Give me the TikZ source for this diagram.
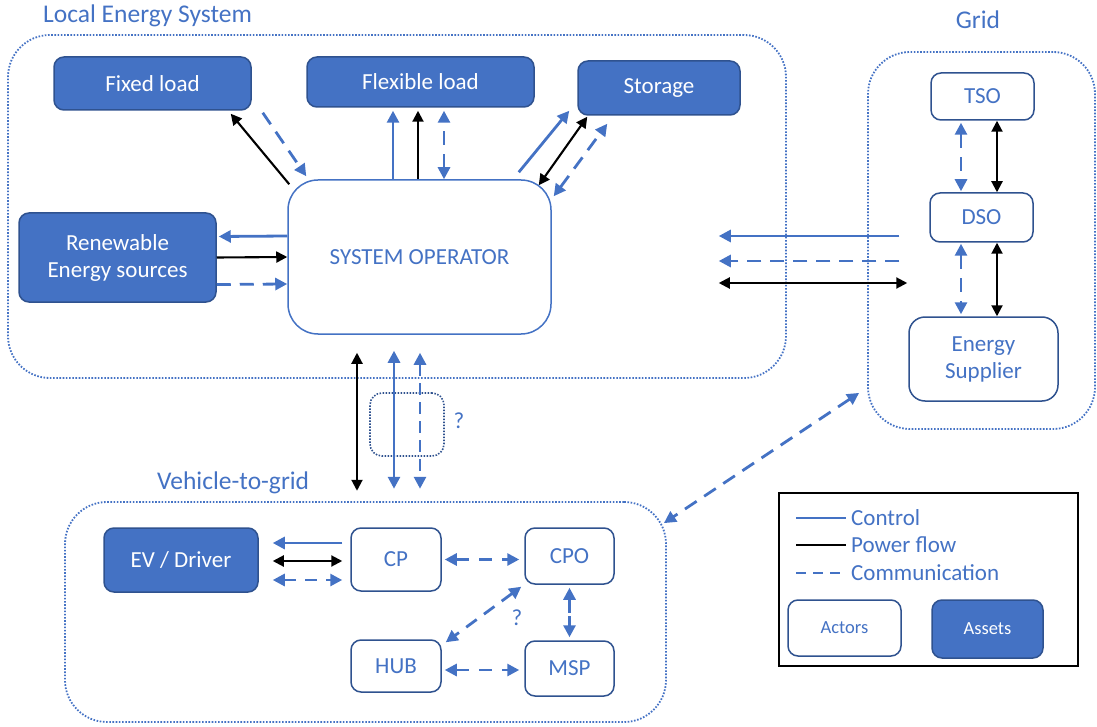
\documentclass[tikz,border=0pt]{standalone}
\usepackage{fontspec}
\setmainfont{Carlito}
\usetikzlibrary{arrows.meta}
\definecolor{mblue}{HTML}{4472C4}
\definecolor{dblue}{HTML}{2F528F}
\begin{document}
\begin{tikzpicture}[x=1pt,y=-1pt,
  txt/.style={font=\fontsize{23}{27}\selectfont},
  asset/.style={txt,draw=dblue,fill=mblue,line width=1.5pt,rounded corners=10pt,text=white,align=center},
  actor/.style={txt,draw=dblue,fill=white,line width=1.5pt,rounded corners=10pt,text=mblue,align=center},
  container/.style={draw=mblue,line width=1.8pt,dash pattern=on 1.6pt off 1.6pt,rounded corners=42pt},
  lbl/.style={text=mblue,font=\fontsize{25.5}{29}\selectfont},
  leg/.style={text=mblue,font=\fontsize{23}{27}\selectfont},
  ctrl/.style={draw=mblue,line width=2.8pt},
  pwr/.style={draw=black,line width=2.1pt},
  comm/.style={draw=mblue,line width=2.8pt,dash pattern=on 14pt off 9pt},
  bt/.style={-{Triangle[length=12pt,width=12pt]}},
  bb/.style={{Triangle[length=12pt,width=12pt]}-{Triangle[length=12pt,width=12pt]}},
  kt/.style={-{Triangle[length=11pt,width=11pt]}},
  kb/.style={{Triangle[length=11pt,width=11pt]}-{Triangle[length=11pt,width=11pt]}},
]
\useasboundingbox (0,0) rectangle (1097,727);

% containers
\node[container,minimum width=778pt,minimum height=343pt] (les) at (397,206.5) {};
\node[container,minimum width=227pt,minimum height=377pt] (grid) at (981.5,240.5) {};
\node[container,minimum width=601pt,minimum height=220pt] (v2g) at (365.5,612) {};
\node[lbl,anchor=west,inner sep=0pt] (lesl) at (43,16) {Local Energy System};
\node[lbl,inner sep=0pt] (gridl) at (978,20) {Grid};
\node[lbl,anchor=west,inner sep=0pt] (v2gl) at (157,483) {Vehicle-to-grid};

% LES nodes
\node[asset,minimum width=197pt,minimum height=53pt] (fixed) at (152.5,83.5) {Fixed load};
\node[asset,minimum width=227pt,minimum height=50pt] (flex) at (420.5,82) {Flexible load};
\node[asset,minimum width=162pt,minimum height=54pt] (stor) at (659,88) {Storage};
\node[asset,minimum width=197pt,minimum height=89pt] (res) at (117.5,257.5) {Renewable\\Energy sources};
\node[actor,draw=mblue,rounded corners=30pt,minimum width=263pt,minimum height=154pt] (so) at (419.5,257) {SYSTEM OPERATOR};

% Grid nodes
\node[actor,minimum width=103pt,minimum height=47pt] (tso) at (982.5,96.5) {TSO};
\node[actor,minimum width=103pt,minimum height=49pt] (dso) at (981.5,217.5) {DSO};
\node[actor,rounded corners=16pt,minimum width=149pt,minimum height=84pt] (es) at (983.5,359) {Energy\\Supplier};

% V2G nodes
\node[asset,minimum width=154pt,minimum height=64pt] (ev) at (181,560) {EV / Driver};
\node[actor,minimum width=90pt,minimum height=63pt] (cp) at (396,559.5) {CP};
\node[actor,minimum width=89pt,minimum height=56pt] (cpo) at (569.5,556) {CPO};
\node[actor,minimum width=90pt,minimum height=52pt] (hub) at (396,666) {HUB};
\node[actor,minimum width=89pt,minimum height=55pt] (msp) at (569.5,668.5) {MSP};

% question box
\node[draw=dblue,line width=1.6pt,dash pattern=on 1.5pt off 1.5pt,rounded corners=12pt,minimum width=74pt,minimum height=63pt] (qbox) at (407,424.5) {};
\node[leg,inner sep=0pt] (q1) at (459,421) {?};
\node[leg,inner sep=0pt] (q2) at (517,618) {?};

% Fixed load
\draw[pwr,kt] ([xshift=2pt,yshift=-5pt]so.north west) -- ([xshift=-21pt,yshift=-3pt]fixed.south east);
\draw[comm,bt] ([xshift=11pt,yshift=-2pt]fixed.south east) -- ([xshift=19pt,yshift=3pt]so.north west);
% Flexible load
\draw[ctrl,bt] ([xshift=-26.5pt]so.north) -- ([xshift=-27.5pt,yshift=-3pt]flex.south);
\draw[pwr,kt] ([xshift=-1.5pt]so.north) -- ([xshift=-2.5pt,yshift=-3pt]flex.south);
\draw[comm,bb] ([xshift=24.5pt]so.north) -- ([xshift=23.5pt,yshift=-3pt]flex.south);
% Storage
\draw[ctrl,bt] ([xshift=-33pt,yshift=7pt]so.north east) -- ([xshift=-8pt,yshift=5pt]stor.south west);
\draw[pwr,kb] ([xshift=-13pt,yshift=-6pt]so.north east) -- ([xshift=10pt,yshift=-1pt]stor.south west);
\draw[comm,bb] ([xshift=2pt,yshift=-17pt]so.north east) -- ([xshift=30pt,yshift=-8pt]stor.south west);
% Renewable
\draw[ctrl,bt] ([yshift=21pt]so.west) -- ([xshift=2pt,yshift=21pt]res.east);
\draw[pwr,kt] (res.east) -- (so.west);
\draw[comm,bt] ([yshift=-27pt]res.east) -- ([yshift=-27pt]so.west);
% Grid to LES
\draw[ctrl,bt] ([xshift=-30pt,yshift=-18.5pt]dso.west) -- ([xshift=167pt,yshift=21pt]so.east);
\draw[comm,bt] ([xshift=-30pt,yshift=-43.5pt]dso.west) -- ([xshift=167pt,yshift=-4pt]so.east);
\draw[pwr,kb] ([xshift=167pt,yshift=-26pt]so.east) -- ([xshift=-22pt,yshift=-65.5pt]dso.west);
% Grid internal
\draw[comm,bb] ([xshift=-21.5pt,yshift=-2pt]tso.south) -- ([xshift=-20.5pt,yshift=1pt]dso.north);
\draw[pwr,kb] ([xshift=14.5pt]tso.south) -- ([xshift=15.5pt]dso.north);
\draw[comm,bb] ([xshift=-20.5pt,yshift=-1pt]dso.south) -- ([xshift=-22.5pt,yshift=2pt]es.north);
\draw[pwr,kb] ([xshift=15.5pt]dso.south) -- ([xshift=13.5pt]es.north);
% SO to V2G
\draw[pwr,kb] ([xshift=-62.5pt,yshift=-18pt]so.south) -- ([xshift=-62.5pt,yshift=-156pt]so.south);
\draw[ctrl,bb] ([xshift=-25.5pt,yshift=-16pt]so.south) -- ([xshift=-25.5pt,yshift=-154pt]so.south);
\draw[comm,bb,dash pattern=on 12pt off 7pt] ([xshift=0.5pt,yshift=-18pt]so.south) -- ([xshift=0.5pt,yshift=-154pt]so.south);
% Grid to V2G
\draw[comm,bb] ([xshift=-8pt,yshift=37pt]grid.south west) -- ([xshift=-3pt,yshift=-22pt]v2g.north east);
% EV - CP
\draw[ctrl,bt] ([xshift=-8pt,yshift=16.5pt]cp.west) -- ([xshift=14pt,yshift=17pt]ev.east);
\draw[pwr,kb] ([xshift=14pt,yshift=-1pt]ev.east) -- ([xshift=-8pt,yshift=-1.5pt]cp.west);
\draw[comm,bb,dash pattern=on 12pt off 9pt] ([xshift=14pt,yshift=-20pt]ev.east) -- ([xshift=-8pt,yshift=-20.5pt]cp.west);
% V2G internal
\draw[comm,bb,dash pattern=on 13pt off 10pt] ([xshift=3pt]cp.east) -- ([xshift=-5pt,yshift=-3.5pt]cpo.west);
\draw[comm,bb,dash pattern=on 13pt off 9pt] ([xshift=-3pt,yshift=-2pt]cpo.south west) -- ([xshift=4pt,yshift=-3pt]hub.north east);
\draw[comm,bb,dash pattern=on 14pt off 3pt] ([yshift=-3pt]cpo.south) -- ([yshift=3pt]msp.north);
\draw[comm,bb,dash pattern=on 13pt off 10pt] ([xshift=3pt,yshift=-4pt]hub.east) -- ([xshift=-5pt,yshift=-1.5pt]msp.west);

% Legend
\node[draw=black,line width=2pt,minimum width=299pt,minimum height=173pt] (legend) at (928.5,579.5) {};
\node[leg,anchor=west,inner sep=0pt] (lc) at (851,518) {Control};
\node[leg,anchor=west,inner sep=0pt] (lp) at (851,545) {Power flow};
\node[leg,anchor=west,inner sep=0pt] (lm) at (851,573) {Communication};
\draw[draw=mblue,line width=2.4pt] ([xshift=-55pt]lc.west) -- ([xshift=-5pt]lc.west);
\draw[draw=black,line width=2.1pt] ([xshift=-55pt]lp.west) -- ([xshift=-5pt]lp.west);
\draw[draw=mblue,line width=2.4pt,dash pattern=on 10pt off 7pt] ([xshift=-55pt]lm.west) -- ([xshift=-5pt]lm.west);
\node[actor,font=\fontsize{18.5}{22}\selectfont,minimum width=113pt,minimum height=56pt] (actors) at (844.5,628) {Actors};
\node[asset,font=\fontsize{18.5}{22}\selectfont,minimum width=111pt,minimum height=58pt] (assets) at (987.5,629) {Assets};
\end{tikzpicture}
\end{document}
